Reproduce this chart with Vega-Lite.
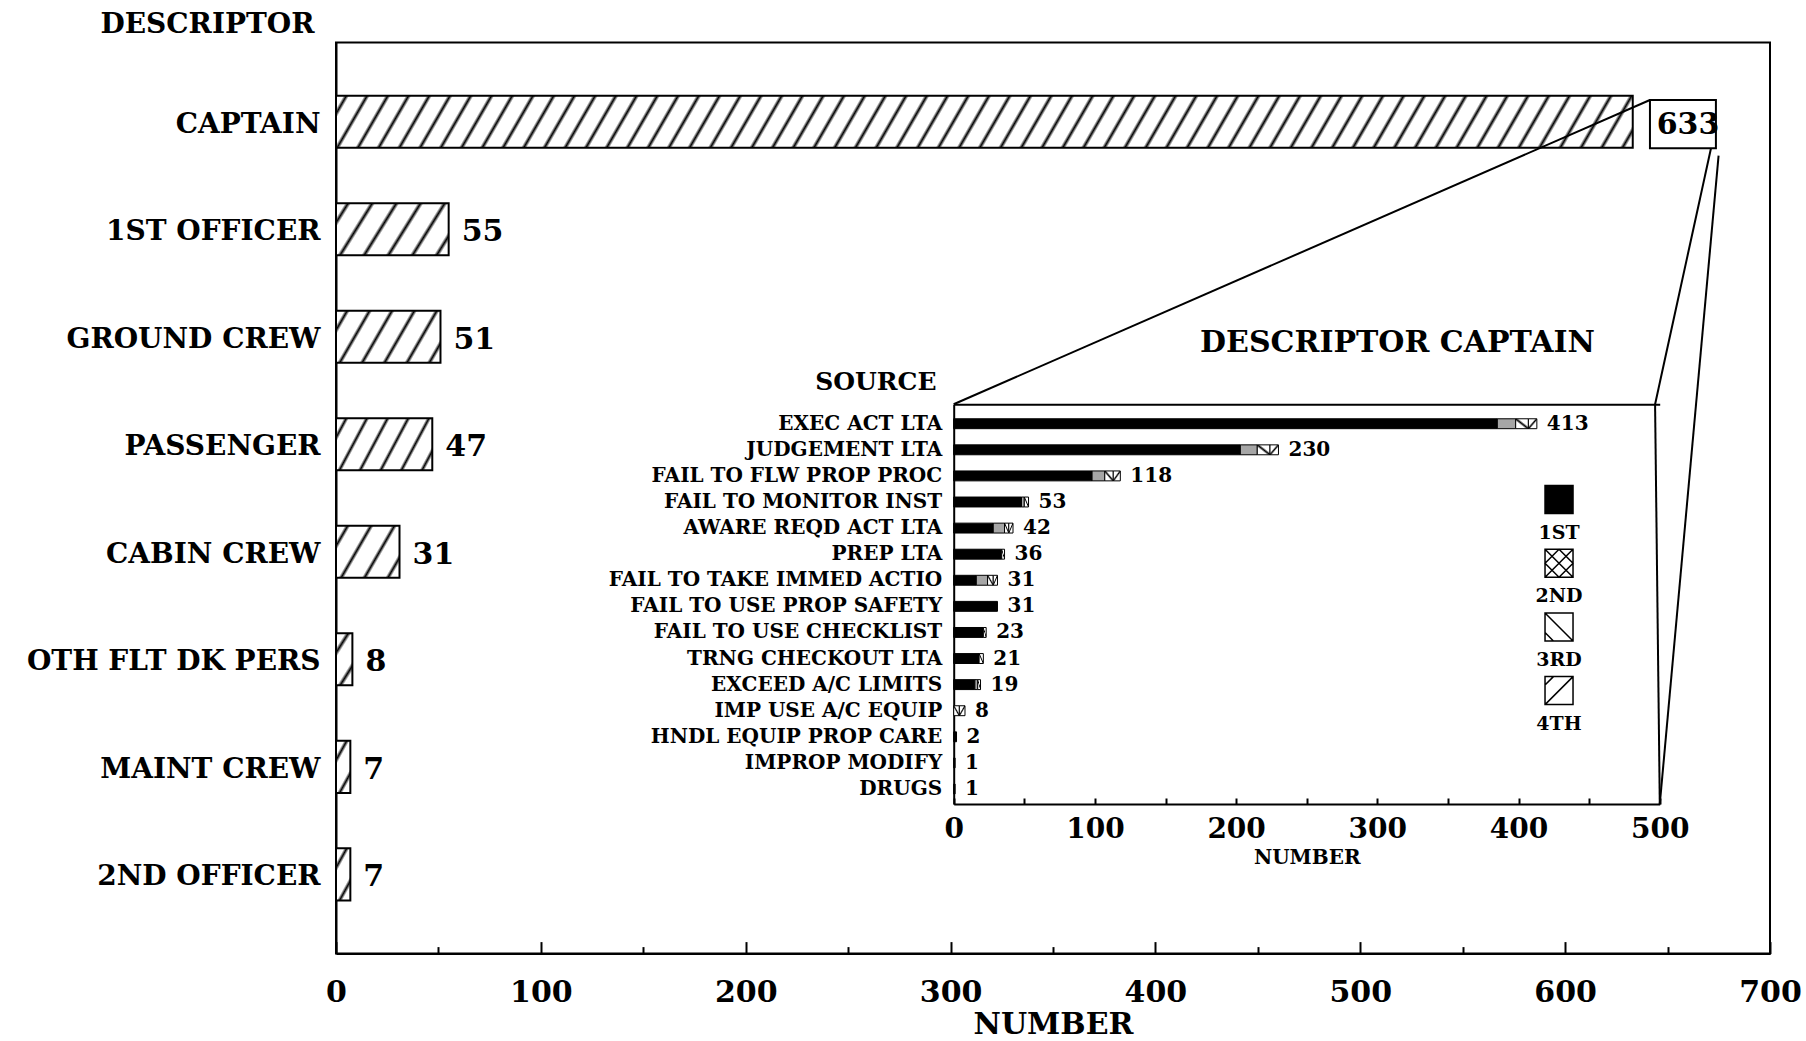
{
 "$schema": "https://vega.github.io/schema/vega-lite/v6.json",
 "width": 1434,
 "height": 911,
 "autosize": {"type": "none"},
 "padding": {"left": 336, "top": 42.6, "right": 36, "bottom": 87.4},
 "background": "white",
 "config": {
  "font": "DejaVu Serif",
  "view": {"stroke": "black", "strokeWidth": 2},
  "axis": {"domainColor": "black", "domainWidth": 2, "tickColor": "black", "tickWidth": 2, "labelColor": "black", "titleColor": "black", "labelFontWeight": "bold", "titleFontWeight": "bold", "grid": false, "labelFont": "DejaVu Serif", "titleFont": "DejaVu Serif"}
 },
 "datasets": {
  "main": [
   {"descriptor": "CAPTAIN", "n": 633},
   {"descriptor": "1ST OFFICER", "n": 55},
   {"descriptor": "GROUND CREW", "n": 51},
   {"descriptor": "PASSENGER", "n": 47},
   {"descriptor": "CABIN CREW", "n": 31},
   {"descriptor": "OTH FLT DK PERS", "n": 8},
   {"descriptor": "MAINT CREW", "n": 7},
   {"descriptor": "2ND OFFICER", "n": 7}
  ],
  "inset": [
   {"source": "EXEC ACT LTA", "rank": "1ST", "n": 385},
   {"source": "EXEC ACT LTA", "rank": "2ND", "n": 13},
   {"source": "EXEC ACT LTA", "rank": "3RD", "n": 9},
   {"source": "EXEC ACT LTA", "rank": "4TH", "n": 6},
   {"source": "JUDGEMENT LTA", "rank": "1ST", "n": 203},
   {"source": "JUDGEMENT LTA", "rank": "2ND", "n": 12},
   {"source": "JUDGEMENT LTA", "rank": "3RD", "n": 9},
   {"source": "JUDGEMENT LTA", "rank": "4TH", "n": 6},
   {"source": "FAIL TO FLW PROP PROC", "rank": "1ST", "n": 98},
   {"source": "FAIL TO FLW PROP PROC", "rank": "2ND", "n": 9},
   {"source": "FAIL TO FLW PROP PROC", "rank": "3RD", "n": 6},
   {"source": "FAIL TO FLW PROP PROC", "rank": "4TH", "n": 5},
   {"source": "FAIL TO MONITOR INST", "rank": "1ST", "n": 48},
   {"source": "FAIL TO MONITOR INST", "rank": "2ND", "n": 2},
   {"source": "FAIL TO MONITOR INST", "rank": "3RD", "n": 3},
   {"source": "AWARE REQD ACT LTA", "rank": "1ST", "n": 28},
   {"source": "AWARE REQD ACT LTA", "rank": "2ND", "n": 8},
   {"source": "AWARE REQD ACT LTA", "rank": "3RD", "n": 3},
   {"source": "AWARE REQD ACT LTA", "rank": "4TH", "n": 3},
   {"source": "PREP LTA", "rank": "1ST", "n": 34},
   {"source": "PREP LTA", "rank": "3RD", "n": 2},
   {"source": "FAIL TO TAKE IMMED ACTIO", "rank": "1ST", "n": 16},
   {"source": "FAIL TO TAKE IMMED ACTIO", "rank": "2ND", "n": 8},
   {"source": "FAIL TO TAKE IMMED ACTIO", "rank": "3RD", "n": 4},
   {"source": "FAIL TO TAKE IMMED ACTIO", "rank": "4TH", "n": 3},
   {"source": "FAIL TO USE PROP SAFETY", "rank": "1ST", "n": 31},
   {"source": "FAIL TO USE CHECKLIST", "rank": "1ST", "n": 21},
   {"source": "FAIL TO USE CHECKLIST", "rank": "3RD", "n": 2},
   {"source": "TRNG CHECKOUT LTA", "rank": "1ST", "n": 18},
   {"source": "TRNG CHECKOUT LTA", "rank": "3RD", "n": 3},
   {"source": "EXCEED A/C LIMITS", "rank": "1ST", "n": 15},
   {"source": "EXCEED A/C LIMITS", "rank": "2ND", "n": 2},
   {"source": "EXCEED A/C LIMITS", "rank": "3RD", "n": 2},
   {"source": "IMP USE A/C EQUIP", "rank": "3RD", "n": 4},
   {"source": "IMP USE A/C EQUIP", "rank": "4TH", "n": 4},
   {"source": "HNDL EQUIP PROP CARE", "rank": "1ST", "n": 2},
   {"source": "IMPROP MODIFY", "rank": "1ST", "n": 1},
   {"source": "DRUGS", "rank": "1ST", "n": 1}
  ],
  "legend": [{"rank": "1ST"}, {"rank": "2ND"}, {"rank": "3RD"}, {"rank": "4TH"}],
  "callouts": [
   {"x": 641.4, "y": 6.3, "x2": 301.5, "y2": 39.7},
   {"x": 671.2, "y": 11.6, "x2": 643.9, "y2": 39.7},
   {"x": 674.9, "y": 12.4, "x2": 646.2, "y2": 83.6},
   {"x": 643.9, "y": 39.7, "x2": 646.2, "y2": 83.6}
  ],
  "box": [{"x": 641.4, "x2": 673.6, "y": 6.3, "y2": 11.6}]
 },
 "layer": [
  {
   "layer": [
    {
     "data": {"name": "main"},
     "encoding": {
      "x": {"field": "n", "type": "quantitative", "scale": {"domain": [0, 700], "nice": false},
       "axis": {"orient": "bottom", "values": [0, 100, 200, 300, 400, 500, 600, 700], "tickSize": -12, "tickWidth": 2, "labelPadding": 51, "labelBaseline": "middle", "labelFontSize": 30, "labelFlush": false, "labelOverlap": false, "labelBound": false, "title": "NUMBER", "titleFontSize": 30, "titleY": 71, "titleBaseline": "middle", "grid": false}},
      "y": {"field": "descriptor", "type": "nominal", "sort": null,
       "scale": {"domain": ["CAPTAIN", "1ST OFFICER", "GROUND CREW", "PASSENGER", "CABIN CREW", "OTH FLT DK PERS", "MAINT CREW", "2ND OFFICER"], "paddingInner": 0.516, "paddingOuter": 0.495},
       "axis": {"orient": "left", "ticks": false, "labelPadding": 16, "labelOffset": 3, "labelFontSize": 28, "labelLimit": 600, "title": "DESCRIPTOR", "titleAngle": 0, "titleX": -129, "titleY": -18.6, "titleAlign": "center", "titleBaseline": "middle", "titleFontSize": 28}}
     },
     "layer": [
      {
       "transform": [{"filter": {"field": "descriptor", "equal": "CAPTAIN"}}],
       "mark": {"type": "bar", "stroke": "black", "strokeWidth": 2, "fill": {"gradient": "linear", "x1": 0, "y1": 0, "x2": 1.0226, "y2": 0.02365, "stops": [
        {"offset":0.00551,"color":"#fff"},{"offset":0.00781,"color":"#000"},{"offset":0.01011,"color":"#fff"},
        {"offset":0.02114,"color":"#fff"},{"offset":0.02344,"color":"#000"},{"offset":0.02574,"color":"#fff"},
        {"offset":0.03676,"color":"#fff"},{"offset":0.03906,"color":"#000"},{"offset":0.04136,"color":"#fff"},
        {"offset":0.05239,"color":"#fff"},{"offset":0.05469,"color":"#000"},{"offset":0.05699,"color":"#fff"},
        {"offset":0.06801,"color":"#fff"},{"offset":0.07031,"color":"#000"},{"offset":0.07261,"color":"#fff"},
        {"offset":0.08364,"color":"#fff"},{"offset":0.08594,"color":"#000"},{"offset":0.08824,"color":"#fff"},
        {"offset":0.09926,"color":"#fff"},{"offset":0.10156,"color":"#000"},{"offset":0.10386,"color":"#fff"},
        {"offset":0.11489,"color":"#fff"},{"offset":0.11719,"color":"#000"},{"offset":0.11949,"color":"#fff"},
        {"offset":0.13051,"color":"#fff"},{"offset":0.13281,"color":"#000"},{"offset":0.13511,"color":"#fff"},
        {"offset":0.14614,"color":"#fff"},{"offset":0.14844,"color":"#000"},{"offset":0.15074,"color":"#fff"},
        {"offset":0.16176,"color":"#fff"},{"offset":0.16406,"color":"#000"},{"offset":0.16636,"color":"#fff"},
        {"offset":0.17739,"color":"#fff"},{"offset":0.17969,"color":"#000"},{"offset":0.18199,"color":"#fff"},
        {"offset":0.19301,"color":"#fff"},{"offset":0.19531,"color":"#000"},{"offset":0.19761,"color":"#fff"},
        {"offset":0.20864,"color":"#fff"},{"offset":0.21094,"color":"#000"},{"offset":0.21324,"color":"#fff"},
        {"offset":0.22426,"color":"#fff"},{"offset":0.22656,"color":"#000"},{"offset":0.22886,"color":"#fff"},
        {"offset":0.23989,"color":"#fff"},{"offset":0.24219,"color":"#000"},{"offset":0.24449,"color":"#fff"},
        {"offset":0.25551,"color":"#fff"},{"offset":0.25781,"color":"#000"},{"offset":0.26011,"color":"#fff"},
        {"offset":0.27114,"color":"#fff"},{"offset":0.27344,"color":"#000"},{"offset":0.27574,"color":"#fff"},
        {"offset":0.28676,"color":"#fff"},{"offset":0.28906,"color":"#000"},{"offset":0.29136,"color":"#fff"},
        {"offset":0.30239,"color":"#fff"},{"offset":0.30469,"color":"#000"},{"offset":0.30699,"color":"#fff"},
        {"offset":0.31801,"color":"#fff"},{"offset":0.32031,"color":"#000"},{"offset":0.32261,"color":"#fff"},
        {"offset":0.33364,"color":"#fff"},{"offset":0.33594,"color":"#000"},{"offset":0.33824,"color":"#fff"},
        {"offset":0.34926,"color":"#fff"},{"offset":0.35156,"color":"#000"},{"offset":0.35386,"color":"#fff"},
        {"offset":0.36489,"color":"#fff"},{"offset":0.36719,"color":"#000"},{"offset":0.36949,"color":"#fff"},
        {"offset":0.38051,"color":"#fff"},{"offset":0.38281,"color":"#000"},{"offset":0.38511,"color":"#fff"},
        {"offset":0.39614,"color":"#fff"},{"offset":0.39844,"color":"#000"},{"offset":0.40074,"color":"#fff"},
        {"offset":0.41176,"color":"#fff"},{"offset":0.41406,"color":"#000"},{"offset":0.41636,"color":"#fff"},
        {"offset":0.42739,"color":"#fff"},{"offset":0.42969,"color":"#000"},{"offset":0.43199,"color":"#fff"},
        {"offset":0.44301,"color":"#fff"},{"offset":0.44531,"color":"#000"},{"offset":0.44761,"color":"#fff"},
        {"offset":0.45864,"color":"#fff"},{"offset":0.46094,"color":"#000"},{"offset":0.46324,"color":"#fff"},
        {"offset":0.47426,"color":"#fff"},{"offset":0.47656,"color":"#000"},{"offset":0.47886,"color":"#fff"},
        {"offset":0.48989,"color":"#fff"},{"offset":0.49219,"color":"#000"},{"offset":0.49449,"color":"#fff"},
        {"offset":0.50551,"color":"#fff"},{"offset":0.50781,"color":"#000"},{"offset":0.51011,"color":"#fff"},
        {"offset":0.52114,"color":"#fff"},{"offset":0.52344,"color":"#000"},{"offset":0.52574,"color":"#fff"},
        {"offset":0.53676,"color":"#fff"},{"offset":0.53906,"color":"#000"},{"offset":0.54136,"color":"#fff"},
        {"offset":0.55239,"color":"#fff"},{"offset":0.55469,"color":"#000"},{"offset":0.55699,"color":"#fff"},
        {"offset":0.56801,"color":"#fff"},{"offset":0.57031,"color":"#000"},{"offset":0.57261,"color":"#fff"},
        {"offset":0.58364,"color":"#fff"},{"offset":0.58594,"color":"#000"},{"offset":0.58824,"color":"#fff"},
        {"offset":0.59926,"color":"#fff"},{"offset":0.60156,"color":"#000"},{"offset":0.60386,"color":"#fff"},
        {"offset":0.61489,"color":"#fff"},{"offset":0.61719,"color":"#000"},{"offset":0.61949,"color":"#fff"},
        {"offset":0.63051,"color":"#fff"},{"offset":0.63281,"color":"#000"},{"offset":0.63511,"color":"#fff"},
        {"offset":0.64614,"color":"#fff"},{"offset":0.64844,"color":"#000"},{"offset":0.65074,"color":"#fff"},
        {"offset":0.66176,"color":"#fff"},{"offset":0.66406,"color":"#000"},{"offset":0.66636,"color":"#fff"},
        {"offset":0.67739,"color":"#fff"},{"offset":0.67969,"color":"#000"},{"offset":0.68199,"color":"#fff"},
        {"offset":0.69301,"color":"#fff"},{"offset":0.69531,"color":"#000"},{"offset":0.69761,"color":"#fff"},
        {"offset":0.70864,"color":"#fff"},{"offset":0.71094,"color":"#000"},{"offset":0.71324,"color":"#fff"},
        {"offset":0.72426,"color":"#fff"},{"offset":0.72656,"color":"#000"},{"offset":0.72886,"color":"#fff"},
        {"offset":0.73989,"color":"#fff"},{"offset":0.74219,"color":"#000"},{"offset":0.74449,"color":"#fff"},
        {"offset":0.75551,"color":"#fff"},{"offset":0.75781,"color":"#000"},{"offset":0.76011,"color":"#fff"},
        {"offset":0.77114,"color":"#fff"},{"offset":0.77344,"color":"#000"},{"offset":0.77574,"color":"#fff"},
        {"offset":0.78676,"color":"#fff"},{"offset":0.78906,"color":"#000"},{"offset":0.79136,"color":"#fff"},
        {"offset":0.80239,"color":"#fff"},{"offset":0.80469,"color":"#000"},{"offset":0.80699,"color":"#fff"},
        {"offset":0.81801,"color":"#fff"},{"offset":0.82031,"color":"#000"},{"offset":0.82261,"color":"#fff"},
        {"offset":0.83364,"color":"#fff"},{"offset":0.83594,"color":"#000"},{"offset":0.83824,"color":"#fff"},
        {"offset":0.84926,"color":"#fff"},{"offset":0.85156,"color":"#000"},{"offset":0.85386,"color":"#fff"},
        {"offset":0.86489,"color":"#fff"},{"offset":0.86719,"color":"#000"},{"offset":0.86949,"color":"#fff"},
        {"offset":0.88051,"color":"#fff"},{"offset":0.88281,"color":"#000"},{"offset":0.88511,"color":"#fff"},
        {"offset":0.89614,"color":"#fff"},{"offset":0.89844,"color":"#000"},{"offset":0.90074,"color":"#fff"},
        {"offset":0.91176,"color":"#fff"},{"offset":0.91406,"color":"#000"},{"offset":0.91636,"color":"#fff"},
        {"offset":0.92739,"color":"#fff"},{"offset":0.92969,"color":"#000"},{"offset":0.93199,"color":"#fff"},
        {"offset":0.94301,"color":"#fff"},{"offset":0.94531,"color":"#000"},{"offset":0.94761,"color":"#fff"},
        {"offset":0.95864,"color":"#fff"},{"offset":0.96094,"color":"#000"},{"offset":0.96324,"color":"#fff"},
        {"offset":0.97426,"color":"#fff"},{"offset":0.97656,"color":"#000"},{"offset":0.97886,"color":"#fff"},
        {"offset":0.98989,"color":"#fff"},{"offset":0.99219,"color":"#000"},{"offset":0.99449,"color":"#fff"}
       ]}}
      },
      {
       "transform": [{"filter": {"field": "descriptor", "oneOf": ["1ST OFFICER", "GROUND CREW", "PASSENGER"]}}],
       "mark": {"type": "bar", "stroke": "black", "strokeWidth": 2, "fill": {"gradient": "linear", "x1": 0, "y1": 0, "x2": 1.189, "y2": 0.341, "stops": [
        {"offset":0.0610,"color":"#fff"},{"offset":0.0833,"color":"#000"},{"offset":0.1056,"color":"#fff"},
        {"offset":0.2277,"color":"#fff"},{"offset":0.25,"color":"#000"},{"offset":0.2723,"color":"#fff"},
        {"offset":0.3944,"color":"#fff"},{"offset":0.4167,"color":"#000"},{"offset":0.4390,"color":"#fff"},
        {"offset":0.5610,"color":"#fff"},{"offset":0.5833,"color":"#000"},{"offset":0.6056,"color":"#fff"},
        {"offset":0.7277,"color":"#fff"},{"offset":0.75,"color":"#000"},{"offset":0.7723,"color":"#fff"},
        {"offset":0.8944,"color":"#fff"},{"offset":0.9167,"color":"#000"},{"offset":0.9390,"color":"#fff"}
       ]}}
      },
      {
       "transform": [{"filter": {"field": "descriptor", "equal": "CABIN CREW"}}],
       "mark": {"type": "bar", "stroke": "black", "strokeWidth": 2, "fill": {"gradient": "linear", "x1": 0, "y1": 0, "x2": 1.2038, "y2": 0.5687, "stops": [
        {"offset":0.093,"color":"#fff"},{"offset":0.125,"color":"#000"},{"offset":0.157,"color":"#fff"},
        {"offset":0.343,"color":"#fff"},{"offset":0.375,"color":"#000"},{"offset":0.407,"color":"#fff"},
        {"offset":0.593,"color":"#fff"},{"offset":0.625,"color":"#000"},{"offset":0.657,"color":"#fff"},
        {"offset":0.843,"color":"#fff"},{"offset":0.875,"color":"#000"},{"offset":0.907,"color":"#fff"}
       ]}}
      },
      {
       "transform": [{"filter": {"field": "descriptor", "oneOf": ["OTH FLT DK PERS", "MAINT CREW", "2ND OFFICER"]}}],
       "mark": {"type": "bar", "stroke": "black", "strokeWidth": 2, "fill": {"gradient": "linear", "x1": 0, "y1": 0, "x2": 0.6, "y2": 1.2, "stops": [
        {"offset":0.183,"color":"#fff"},{"offset":0.25,"color":"#000"},{"offset":0.317,"color":"#fff"},
        {"offset":0.683,"color":"#fff"},{"offset":0.75,"color":"#000"},{"offset":0.817,"color":"#fff"}
       ]}}
      },
      {
       "transform": [{"filter": {"not": {"field": "descriptor", "equal": "CAPTAIN"}}}],
       "mark": {"type": "text", "align": "left", "baseline": "middle", "dx": 13, "dy": 3, "fontSize": 30, "fontWeight": "bold", "font": "DejaVu Serif", "color": "black"},
       "encoding": {"text": {"field": "n", "type": "quantitative"}}
      },
      {
       "transform": [{"filter": {"field": "descriptor", "equal": "CAPTAIN"}}],
       "mark": {"type": "text", "align": "left", "baseline": "middle", "dx": 24, "dy": 3, "fontSize": 30, "fontWeight": "bold", "font": "DejaVu Serif", "color": "black"},
       "encoding": {"text": {"field": "n", "type": "quantitative"}}
      }
     ]
    },
    {
     "layer": [
      {
       "data": {"name": "callouts"},
       "mark": {"type": "rule", "color": "black", "strokeWidth": 2},
       "encoding": {
        "x": {"field": "x", "type": "quantitative", "scale": {"domain": [0, 700], "nice": false},
         "axis": {"orient": "bottom", "values": [50, 150, 250, 350, 450, 550, 650], "tickSize": -7, "tickWidth": 2, "labels": false, "domain": false, "title": null, "grid": false}},
        "x2": {"field": "x2"},
        "y": {"field": "y", "type": "quantitative", "scale": {"domain": [0, 100], "nice": false, "reverse": true}, "axis": null},
        "y2": {"field": "y2"}
       }
      },
      {
       "data": {"name": "box"},
       "mark": {"type": "rect", "filled": false, "color": "black", "strokeWidth": 2},
       "encoding": {
        "x": {"field": "x", "type": "quantitative", "scale": {"domain": [0, 700], "nice": false}},
        "x2": {"field": "x2"},
        "y": {"field": "y", "type": "quantitative", "scale": {"domain": [0, 100], "nice": false, "reverse": true}},
        "y2": {"field": "y2"}
       }
      }
     ]
    }
   ],
   "resolve": {"scale": {"y": "independent"}, "axis": {"x": "independent", "y": "independent"}}
  },
  {
   "layer": [
    {
     "data": {"name": "inset"},
     "transform": [{"stack": "n", "groupby": ["source"], "sort": [{"field": "rank", "order": "ascending"}], "as": ["x0", "x1"]}],
     "encoding": {
      "y": {"field": "source", "type": "nominal", "sort": null,
       "scale": {"type": "band", "domain": ["EXEC ACT LTA", "JUDGEMENT LTA", "FAIL TO FLW PROP PROC", "FAIL TO MONITOR INST", "AWARE REQD ACT LTA", "PREP LTA", "FAIL TO TAKE IMMED ACTIO", "FAIL TO USE PROP SAFETY", "FAIL TO USE CHECKLIST", "TRNG CHECKOUT LTA", "EXCEED A/C LIMITS", "IMP USE A/C EQUIP", "HNDL EQUIP PROP CARE", "IMPROP MODIFY", "DRUGS"], "range": [361.7, 761.4], "paddingInner": 0.62, "paddingOuter": 0.47, "align": 0.59},
       "axis": {"orient": "left", "offset": -617.7, "ticks": false, "labelPadding": 12, "labelFontSize": 20, "labelLimit": 600, "title": "SOURCE", "titleAngle": 0, "titleAlign": "right", "titleX": -17.7, "titleY": 338.4, "titleBaseline": "middle", "titleFontSize": 25}},
      "x": {"field": "x0", "type": "quantitative", "stack": null, "scale": {"domain": [0, 500], "range": [617.7, 1323.7], "nice": false, "zero": false},
       "axis": {"orient": "bottom", "offset": -149.6, "values": [0, 50, 100, 150, 200, 250, 300, 350, 400, 450, 500], "labelExpr": "datum.value % 100 === 0 ? datum.label : ''", "tickSize": -6, "tickWidth": 2, "labelPadding": 31, "labelBaseline": "middle", "labelFontSize": 28, "labelFlush": false, "labelOverlap": false, "labelBound": false, "title": "NUMBER", "titleFontSize": 20, "titleY": 53, "titleBaseline": "middle", "grid": false}},
      "x2": {"field": "x1"}
     },
     "layer": [
      {
       "transform": [{"filter": {"field": "rank", "equal": "1ST"}}],
       "mark": {"type": "bar", "fill": "black", "stroke": "black", "strokeWidth": 1}
      },
      {
       "transform": [{"filter": {"field": "rank", "equal": "2ND"}}],
       "mark": {"type": "bar", "fill": "#a6a6a6", "stroke": "black", "strokeWidth": 1}
      },
      {
       "transform": [{"filter": {"field": "rank", "equal": "3RD"}}],
       "mark": {"type": "bar", "stroke": "black", "strokeWidth": 1, "fill": {"gradient": "linear", "x1": 0, "y1": 1, "x2": 1, "y2": 0, "stops": [
        {"offset": 0, "color": "#fff"}, {"offset": 0.38, "color": "#fff"}, {"offset": 0.5, "color": "#000"}, {"offset": 0.62, "color": "#fff"}, {"offset": 1, "color": "#fff"}]}}
      },
      {
       "transform": [{"filter": {"field": "rank", "equal": "4TH"}}],
       "mark": {"type": "bar", "stroke": "black", "strokeWidth": 1, "fill": {"gradient": "linear", "x1": 0, "y1": 0, "x2": 1, "y2": 1, "stops": [
        {"offset": 0, "color": "#fff"}, {"offset": 0.38, "color": "#fff"}, {"offset": 0.5, "color": "#000"}, {"offset": 0.62, "color": "#fff"}, {"offset": 1, "color": "#fff"}]}}
      },
      {
       "transform": [{"aggregate": [{"op": "sum", "field": "n", "as": "total"}], "groupby": ["source"]}],
       "mark": {"type": "text", "align": "left", "baseline": "middle", "dx": 10, "fontSize": 20, "fontWeight": "bold", "font": "DejaVu Serif", "color": "black"},
       "encoding": {
        "x": {"field": "total", "type": "quantitative"},
        "x2": null,
        "text": {"field": "total", "type": "quantitative"}
       }
      }
     ]
    },
    {
     "data": {"name": "legend"},
     "encoding": {
      "x": {"datum": 428.7, "type": "quantitative", "scale": {"domain": [0, 500], "range": [617.7, 1323.7], "nice": false, "zero": false},
       "axis": {"orient": "top", "offset": -361.7, "domain": true, "domainWidth": 2, "ticks": false, "labels": false, "grid": false, "title": "DESCRIPTOR CAPTAIN", "titleX": 1061, "titleY": -62.3, "titleAlign": "center", "titleBaseline": "middle", "titleFontSize": 30}},
      "y": {"field": "rank", "type": "nominal", "sort": null, "scale": {"type": "point", "range": [457, 648], "padding": 0}, "axis": null}
     },
     "layer": [
      {
       "mark": {"type": "point", "filled": true, "size": 784, "stroke": "black", "strokeWidth": 1.5, "opacity": 1},
       "encoding": {
        "shape": {"field": "rank", "type": "nominal", "scale": {"domain": ["1ST", "2ND", "3RD", "4TH"], "range": ["M-1,-1H1V1H-1Z", "M-1,-1H1V1H-1Z M-1,-1L1,1 M1,-1L-1,1 M-1,0L0,-1L1,0L0,1Z", "M-1,-1H1V1H-1Z M-1,-1L1,1 M-1,0.4L-0.4,1", "M-1,-1H1V1H-1Z M-1,1L1,-1 M-1,-0.4L-0.4,-1"]}, "legend": null},
        "color": {"field": "rank", "type": "nominal", "scale": {"domain": ["1ST", "2ND", "3RD", "4TH"], "range": ["black", "white", "white", "white"]}, "legend": null}
       }
      },
      {
       "mark": {"type": "text", "dy": 33, "align": "center", "baseline": "middle", "fontSize": 19, "fontWeight": "bold", "font": "DejaVu Serif", "color": "black"},
       "encoding": {"text": {"field": "rank", "type": "nominal"}}
      }
     ]
    }
   ],
   "resolve": {"scale": {"y": "independent", "color": "independent", "shape": "independent"}, "axis": {"x": "independent", "y": "independent"}}
  }
 ],
 "resolve": {"scale": {"x": "independent", "y": "independent"}, "axis": {"x": "independent", "y": "independent"}}
}
